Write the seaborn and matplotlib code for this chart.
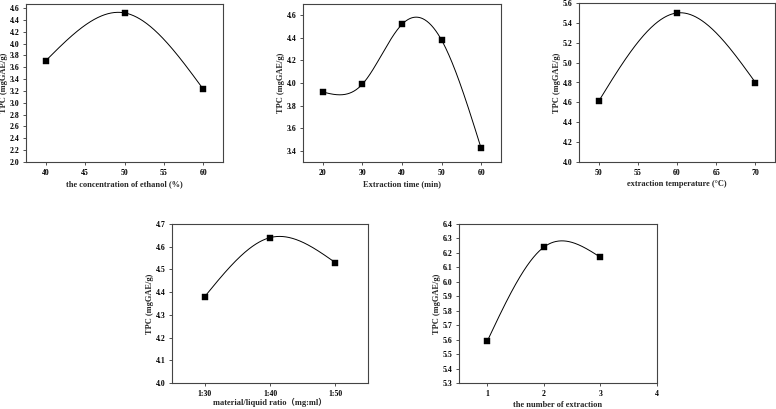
import numpy as np
import pandas as pd
import matplotlib
matplotlib.use('Agg')
import matplotlib.pyplot as plt
import seaborn as sns

## ============================================================= ##

ethanol = [40, 50, 60]
tpc_ethanol = [3.71, 4.52, 3.23]

time_min = [20, 30, 40, 50, 60]
tpc_time = [3.92, 3.99, 4.52, 4.38, 3.42]

temperature = [50, 60, 70]
tpc_temp = [4.61, 5.50, 4.80]

ratio_labels = ['1:30', '1:40', '1:50']
tpc_ratio = [4.38, 4.64, 4.53]

n_extraction = [1, 2, 3]
tpc_number = [5.59, 6.24, 6.17]

## ============================================================= ##

sns.set_style('ticks')
plt.rcParams['font.family'] = ['Liberation Serif', 'Noto Sans CJK SC', 'DejaVu Sans']
plt.rcParams['font.weight'] = 'bold'
plt.rcParams['axes.labelweight'] = 'bold'


def natural_spline(x, y, n=300):
    # natural cubic spline through the measured points (smooth connecting line)
    x = np.asarray(x, float)
    y = np.asarray(y, float)
    k = len(x)
    h = np.diff(x)
    A = np.zeros((k, k))
    b = np.zeros(k)
    A[0, 0] = 1.
    A[-1, -1] = 1.
    for i in range(1, k - 1):
        A[i, i - 1] = h[i - 1]
        A[i, i] = 2 * (h[i - 1] + h[i])
        A[i, i + 1] = h[i]
        b[i] = 6 * ((y[i + 1] - y[i]) / h[i] - (y[i] - y[i - 1]) / h[i - 1])
    M = np.linalg.solve(A, b)
    xs = np.linspace(x[0], x[-1], n)
    idx = np.clip(np.searchsorted(x, xs) - 1, 0, k - 2)
    x0, x1 = x[idx], x[idx + 1]
    hh = x1 - x0
    ys = (M[idx] * (x1 - xs) ** 3 / (6 * hh) + M[idx + 1] * (xs - x0) ** 3 / (6 * hh)
          + (y[idx] / hh - M[idx] * hh / 6) * (x1 - xs)
          + (y[idx + 1] / hh - M[idx + 1] * hh / 6) * (xs - x0))
    return xs, ys


W, H = 776., 409.


def make_ax(fig, left, right, top, bottom):
    return fig.add_axes([left / W, 1 - bottom / H, (right - left) / W, (bottom - top) / H])


def draw(ax, x, y, xlabel, xlim, ylim, xticks, yticks, yfmt='%.1f', xpad=2.5):
    xs, ys = natural_spline(x, y)
    sns.lineplot(x=xs, y=ys, ax=ax, color='black', lw=0.7, sort=False, estimator=None)
    sns.scatterplot(x=x, y=y, ax=ax, marker='s', s=13, color='black', edgecolor='black',
                    linewidth=0.3, zorder=3)
    ax.set_xlim(*xlim)
    ax.set_ylim(*ylim)
    ax.set_xticks(xticks)
    ax.set_yticks(yticks)
    ax.set_yticklabels([yfmt % v for v in yticks])
    ax.set_xlabel(xlabel, fontsize=6, fontweight='bold', labelpad=xpad)
    ax.set_ylabel('TPC (mgGAE/g)', fontsize=6, fontweight='bold', labelpad=1.5)
    ax.tick_params(direction='out', length=2.5, width=0.6, labelsize=5.6, pad=2.2, colors='#333333')
    for lab in ax.get_xticklabels() + ax.get_yticklabels():
        lab.set_fontweight('bold')
        lab.set_color('black')
    for sp in ax.spines.values():
        sp.set_visible(True)
        sp.set_color('#444444')
        sp.set_linewidth(0.8)


fig = plt.figure(figsize=(7.76, 4.09), dpi=100)

ax1 = make_ax(fig, 26, 223, 4, 162)
draw(ax1, ethanol, tpc_ethanol, 'the concentration of ethanol (%)',
     (37.5, 62.5), (2.0, 4.67), np.arange(40, 61, 5), np.arange(2.0, 4.61, 0.2))

ax2 = make_ax(fig, 303, 501, 4, 162)
draw(ax2, time_min, tpc_time, 'Extraction time (min)',
     (15, 65), (3.3, 4.7), np.arange(20, 61, 10), np.arange(3.4, 4.61, 0.2))

ax3 = make_ax(fig, 579, 775, 3, 162)
draw(ax3, temperature, tpc_temp, 'extraction temperature (°C)',
     (47.5, 72.5), (4.0, 5.6), np.arange(50, 71, 5), np.arange(4.0, 5.61, 0.2))

ax4 = make_ax(fig, 172, 368, 224, 383)
pos = list(range(len(ratio_labels)))
draw(ax4, pos, tpc_ratio, 'material/liquid ratio（mg:ml）',
     (-0.5, 2.5), (4.0, 4.7), pos, np.arange(4.0, 4.71, 0.1), xpad=0.5)
ax4.set_xticklabels(ratio_labels)
for lab in ax4.get_xticklabels():
    lab.set_fontweight('bold')

ax5 = make_ax(fig, 459, 657, 224, 383)
draw(ax5, n_extraction, tpc_number, 'the number of extraction',
     (0.5, 4.0), (5.3, 6.4), [1, 2, 3, 4], np.arange(5.3, 6.41, 0.1))

fig.savefig('out.png', dpi=100)
